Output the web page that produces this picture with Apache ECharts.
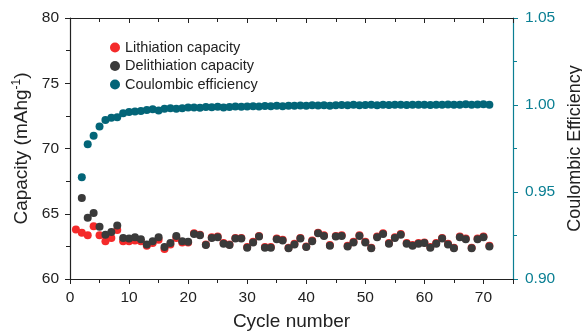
<!DOCTYPE html>
<html><head><meta charset="utf-8">
<script src="https://cdn.jsdelivr.net/npm/echarts@6/dist/echarts.min.js"></script>
<style>html,body{margin:0;padding:0;background:#fff}#c{width:582px;height:333px}</style>
</head><body><div id="c"></div>
<script>
const cycles = Array.from({length: 71}, (_, i) => i + 1);
const lithiation = [63.8,63.55,63.35,64.05,63.35,62.9,63.15,63.75,62.9,62.9,
 62.95,62.9,62.55,62.75,63.0,62.3,62.65,63.15,62.8,62.8,
 63.5,63.4,62.65,63.2,63.25,62.75,62.65,63.15,63.15,62.45,
 62.85,63.3,62.45,62.45,63.1,63.0,62.4,62.7,63.15,62.5,
 62.95,63.55,63.35,62.6,63.3,63.35,62.55,62.85,63.35,62.85,
 62.4,63.25,63.5,62.75,63.2,63.45,62.75,62.6,62.75,62.8,
 62.45,62.75,63.15,62.7,62.4,63.25,63.1,62.4,63.1,63.25,62.55];
const delithiation = ['-',66.2,64.7,65.05,64.0,63.4,63.6,64.1,63.15,63.1,
 63.2,63.05,62.65,62.9,63.2,62.45,62.75,63.3,62.9,62.85,
 63.45,63.35,62.6,63.15,63.2,62.7,62.6,63.1,63.1,62.4,
 62.8,63.25,62.4,62.4,63.05,62.95,62.35,62.65,63.1,62.45,
 62.9,63.5,63.3,62.55,63.25,63.3,62.5,62.8,63.3,62.8,
 62.35,63.2,63.45,62.7,63.15,63.4,62.7,62.55,62.7,62.75,
 62.4,62.7,63.1,62.65,62.35,63.2,63.05,62.35,63.05,63.2,62.5];
const efficiency = ['-',0.9585,0.9775,0.9823,0.9876,0.9914,0.9927,0.9929,0.9953,0.996,
 0.9962,0.9966,0.9971,0.9975,0.9968,0.9979,0.9981,0.9979,0.9981,0.9985,
 0.9986,0.9984,0.9988,0.9987,0.999,0.9986,0.9989,0.9991,0.999,0.9992,
 0.9993,0.9991,0.9994,0.9993,0.9995,0.9993,0.9996,0.9995,0.9997,0.9995,
 0.9998,0.9997,0.9999,0.9996,0.9998,1.0,0.9998,1.0001,0.9999,1.0,
 1.0001,0.9999,1.0002,1.0,1.0001,1.0002,1.0,1.0001,1.0002,1.0001,
 1.0,1.0002,1.0001,1.0003,1.0001,1.0002,1.0004,1.0002,1.0003,1.0004,1.0002];
const seriesNames = ['Lithiation capacity','Delithiation capacity','Coulombic efficiency'];
const xTitle = 'Cycle number';
const yTitle = 'Capacity (mAhg{sup|-1})';
const y2Title = 'Coulombic Efficiency';

const FONT = 'Liberation Sans, Arial, sans-serif';
const TEAL = '#0a7f93';
const INK = '#222';
const chart = echarts.init(document.getElementById('c'), null, {renderer: 'canvas'});
const pair = arr => cycles.map((c, i) => [c, arr[i]]);
chart.setOption({
  animation: false,
  textStyle: {fontFamily: FONT},
  grid: {left: 70, right: 69, top: 18, bottom: 54, containLabel: false, outerBoundsMode: 'none'},
  legend: {
    data: seriesNames, orient: 'vertical', left: 105, top: 35, itemGap: 3.5,
    icon: 'circle', itemWidth: 10, itemHeight: 10,
    textStyle: {fontSize: 14.5, lineHeight: 15, color: INK, fontFamily: FONT}
  },
  xAxis: [{
    type: 'value', min: 0, max: 75, interval: 10,
    name: xTitle, nameLocation: 'middle', nameGap: 33,
    nameTextStyle: {fontSize: 19, color: INK, fontFamily: FONT},
    axisLine: {onZero: false, lineStyle: {color: INK, width: 1.2}},
    axisTick: {length: 5, lineStyle: {color: INK}},
    minorTick: {show: true, splitNumber: 2, length: 4, lineStyle: {color: INK}},
    axisLabel: {fontSize: 15.5, color: INK, showMaxLabel: false, margin: 11},
    splitLine: {show: false}
  }, {
    type: 'value', min: 0, max: 75, interval: 10, position: 'top',
    axisLine: {show: true, onZero: false, lineStyle: {color: INK, width: 1.2}},
    axisTick: {inside: true, length: 5, lineStyle: {color: INK}},
    minorTick: {show: true, splitNumber: 2, length: 4, lineStyle: {color: INK}},
    axisLabel: {show: false}, splitLine: {show: false}
  }],
  yAxis: [{
    type: 'value', min: 60, max: 80, interval: 5,
    name: yTitle, nameLocation: 'middle', nameGap: 37, nameRotate: 90,
    nameTextStyle: {fontSize: 19, color: INK, fontFamily: FONT,
      rich: {sup: {fontSize: 12, color: INK, verticalAlign: 'bottom', padding: [0, 0, 10, 0], fontFamily: FONT}}},
    axisLine: {show: true, onZero: false, lineStyle: {color: INK, width: 1.2}},
    axisTick: {length: 5, lineStyle: {color: INK}},
    minorTick: {show: true, splitNumber: 2, length: 4, lineStyle: {color: INK}},
    axisLabel: {fontSize: 15.5, color: INK, margin: 11},
    splitLine: {show: false}
  }, {
    type: 'value', min: 0.90, max: 1.05, interval: 0.05, position: 'right',
    name: y2Title, nameLocation: 'middle', nameGap: 50, nameRotate: 90,
    nameTextStyle: {fontSize: 18, color: INK, fontFamily: FONT},
    axisLine: {show: true, onZero: false, lineStyle: {color: TEAL, width: 1.2}},
    axisTick: {length: 5, lineStyle: {color: TEAL}},
    minorTick: {show: true, splitNumber: 2, length: 4, lineStyle: {color: TEAL}},
    axisLabel: {fontSize: 15.5, color: TEAL, margin: 12, formatter: v => v.toFixed(2)},
    splitLine: {show: false}
  }],
  series: [{
    name: seriesNames[0], type: 'scatter', xAxisIndex: 0, yAxisIndex: 0,
    symbolSize: 8, itemStyle: {color: '#f42a2a', opacity: 1}, data: pair(lithiation)
  }, {
    name: seriesNames[1], type: 'scatter', xAxisIndex: 0, yAxisIndex: 0,
    symbolSize: 8, itemStyle: {color: '#3a3a3a', opacity: 1}, data: pair(delithiation)
  }, {
    name: seriesNames[2], type: 'scatter', xAxisIndex: 0, yAxisIndex: 1,
    symbolSize: 8, itemStyle: {color: '#036578', opacity: 1}, data: pair(efficiency)
  }]
});
</script></body></html>
